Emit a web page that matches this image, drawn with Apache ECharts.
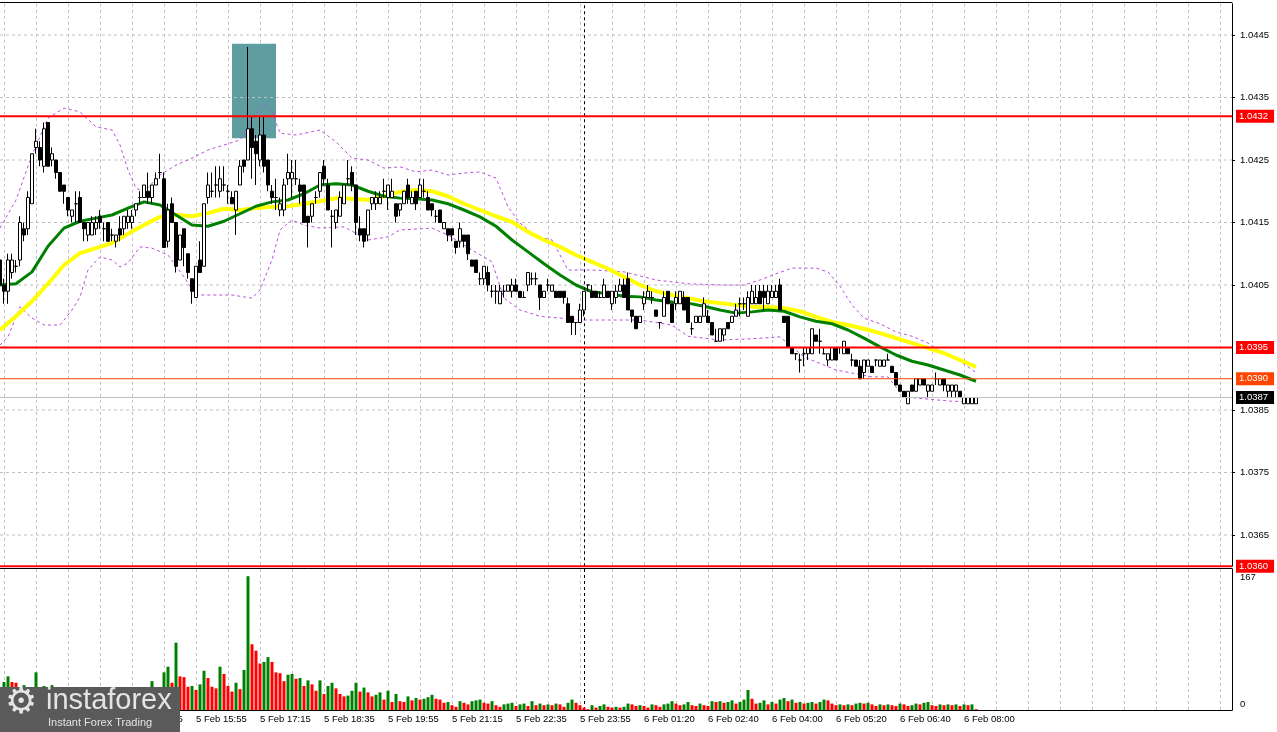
<!DOCTYPE html>
<html><head><meta charset="utf-8">
<script src="https://cdn.jsdelivr.net/npm/echarts@6/dist/echarts.min.js"></script>
<style>html,body{margin:0;padding:0;background:#fff;}#c{width:1277px;height:732px;}</style>
</head><body><div id="c"></div>
<script>
// ---------- data ----------
const tickLabels = ['5 Feb 11:55','5 Feb 13:15','5 Feb 14:35','5 Feb 15:55','5 Feb 17:15','5 Feb 18:35',
  '5 Feb 19:55','5 Feb 21:15','5 Feb 22:35','5 Feb 23:55','6 Feb 01:20','6 Feb 02:40','6 Feb 04:00',
  '6 Feb 05:20','6 Feb 06:40','6 Feb 08:00'];
const priceTicks = [1.0445,1.0435,1.0425,1.0415,1.0405,1.0385,1.0375,1.0365];
const priceGridLevels = [1.0445,1.0435,1.0425,1.0415,1.0405,1.0395,1.0385,1.0375,1.0365];
const volumeTicks = [0,167];
const redLevels = [1.0432,1.0395,1.0360];
const orangeLevel = 1.0390;
const bidPrice = 1.0387;
const dayBreakIndex = 146;
const zoneBars = [58,69];
const zonePrices = [1.04436,1.04285];

// [open, close, low, high]
const candles = [
[1.0409,1.0405,1.0404,1.0410],[1.0405,1.0404,1.0402,1.0406],[1.0404,1.0409,1.0402,1.0410],[1.0407,1.0409,1.0406,1.0410],
[1.0408,1.0408,1.0407,1.0409],[1.0409,1.0415,1.0408,1.0416],[1.0414,1.0413,1.0412,1.0415],[1.0414,1.0419,1.0413,1.0420],
[1.0418,1.0426,1.0418,1.0426],[1.0427,1.0428,1.0426,1.0430],[1.0427,1.0425,1.0424,1.0428],[1.0424,1.0430,1.0423,1.0431],
[1.0431,1.0424,1.0424,1.0431],[1.0425,1.0426,1.0424,1.0427],[1.0425,1.0423,1.0422,1.0425],[1.0423,1.0420,1.0420,1.0423],
[1.0421,1.0420,1.0418,1.0421],[1.0419,1.0417,1.0416,1.0419],[1.0416,1.0417,1.0415,1.0417],[1.0418,1.0418,1.0415,1.0420],
[1.0419,1.0415,1.0415,1.0420],[1.0415,1.0414,1.0412,1.0415],[1.0413,1.0415,1.0412,1.0415],[1.0413,1.0415,1.0413,1.0416],
[1.0414,1.0415,1.0413,1.0416],[1.0416,1.0415,1.0414,1.0417],[1.0414,1.0414,1.0412,1.0415],[1.0415,1.0412,1.0412,1.0415],
[1.0413,1.0413,1.0412,1.0414],[1.0412,1.0413,1.0411,1.0413],[1.0414,1.0413,1.0412,1.0416],[1.0414,1.0416,1.0413,1.0416],
[1.0415,1.0416,1.0414,1.0417],[1.0415,1.0416,1.0414,1.0417],[1.0417,1.0418,1.0416,1.0418],[1.0419,1.0419,1.0418,1.0420],
[1.0419,1.0421,1.0419,1.0421],[1.0420,1.0419,1.0418,1.0423],[1.0419,1.0421,1.0418,1.0421],[1.0421,1.0422,1.0421,1.0423],
[1.0423,1.0423,1.0422,1.0426],[1.0422,1.0411,1.0411,1.0423],[1.0412,1.0417,1.0411,1.0418],[1.0418,1.0415,1.0415,1.0419],
[1.0415,1.0408,1.0407,1.0415],[1.0409,1.0413,1.0409,1.0413],[1.0414,1.0411,1.0408,1.0414],[1.0410,1.0407,1.0406,1.0410],
[1.0406,1.0404,1.0402,1.0406],[1.0403,1.0408,1.0403,1.0408],[1.0409,1.0407,1.0407,1.0412],[1.0408,1.0418,1.0408,1.0418],
[1.0419,1.0421,1.0418,1.0423],[1.0420,1.0420,1.0419,1.0423],[1.0421,1.0421,1.0419,1.0424],[1.0420,1.0422,1.0419,1.0424],
[1.0421,1.0421,1.0420,1.0424],[1.0420,1.0420,1.0418,1.0421],[1.0419,1.0418,1.0418,1.0420],[1.0417,1.0420,1.0413,1.0420],
[1.0421,1.0424,1.0421,1.0425],[1.0425,1.0424,1.0423,1.0425],[1.0425,1.0430,1.0425,1.04431],[1.0430,1.0427,1.0422,1.0432],
[1.0428,1.0426,1.0421,1.0429],[1.0425,1.0429,1.0424,1.0432],[1.0429,1.0424,1.0423,1.0432],[1.0425,1.0421,1.0420,1.0425],
[1.0420,1.0419,1.0418,1.0421],[1.0419,1.0419,1.0417,1.0422],[1.0417,1.0418,1.0416,1.0419],[1.0417,1.0421,1.0416,1.0422],
[1.0422,1.0423,1.0421,1.0426],[1.0422,1.0423,1.0419,1.0425],[1.0422,1.0422,1.0421,1.0425],[1.0421,1.0420,1.0418,1.0422],
[1.0421,1.0415,1.0415,1.0421],[1.0416,1.0415,1.0411,1.0416],[1.0416,1.0418,1.0415,1.0418],[1.0419,1.0419,1.0418,1.0420],
[1.0420,1.0423,1.0419,1.0423],[1.0424,1.0422,1.0421,1.0425],[1.0421,1.0417,1.0417,1.0422],[1.0416,1.0416,1.0411,1.0417],
[1.0415,1.0417,1.0414,1.0417],[1.0416,1.0419,1.0416,1.0420],[1.0418,1.0421,1.0418,1.0421],[1.0422,1.0422,1.0421,1.0425],
[1.0423,1.0421,1.0420,1.0424],[1.0421,1.0415,1.0413,1.0421],[1.0414,1.0413,1.0412,1.0416],[1.0414,1.0412,1.0411,1.0414],
[1.0413,1.0417,1.0412,1.0417],[1.0418,1.0419,1.0417,1.0419],[1.0418,1.0419,1.0417,1.0420],[1.0418,1.0419,1.0418,1.0420],
[1.0420,1.0420,1.0419,1.0422],[1.0419,1.0421,1.0417,1.0421],[1.0419,1.0420,1.0419,1.0422],[1.0418,1.0416,1.0415,1.0418],
[1.0417,1.0418,1.0416,1.0418],[1.0418,1.0420,1.0418,1.0420],[1.0421,1.0419,1.0418,1.0422],[1.0418,1.0419,1.0418,1.0420],
[1.0420,1.0418,1.0417,1.0420],[1.0419,1.0421,1.0419,1.0422],[1.0420,1.0420,1.0419,1.0422],[1.0419,1.0417,1.0417,1.0420],
[1.0418,1.0417,1.0416,1.0418],[1.0416,1.0416,1.0415,1.0417],[1.0417,1.0415,1.0415,1.0417],[1.0414,1.0415,1.0414,1.0415],
[1.0414,1.0413,1.0412,1.0414],[1.0414,1.0413,1.0412,1.0414],[1.0412,1.0411,1.0410,1.0412],[1.0412,1.0414,1.0411,1.0415],
[1.0413,1.0412,1.0411,1.0413],[1.0413,1.0410,1.0409,1.0413],[1.0409,1.0408,1.0408,1.0409],[1.0409,1.0407,1.0407,1.0409],
[1.0406,1.0406,1.0405,1.0407],[1.0406,1.0408,1.0405,1.0408],[1.0407,1.0405,1.0404,1.0408],[1.0404,1.0404,1.0403,1.0405],
[1.0404,1.0404,1.0402,1.0405],[1.0402,1.0404,1.0402,1.0405],[1.0404,1.0404,1.0403,1.0405],[1.0404,1.0405,1.0404,1.0405],
[1.0404,1.0405,1.0403,1.0406],[1.0405,1.0404,1.0404,1.0406],[1.0404,1.0403,1.0403,1.0404],[1.0403,1.0403,1.0403,1.0404],
[1.0405,1.0407,1.0404,1.0407],[1.0406,1.0406,1.0405,1.0407],[1.0406,1.0406,1.0405,1.0407],[1.0405,1.0403,1.0401,1.0405],
[1.0403,1.0404,1.0403,1.0404],[1.0405,1.0405,1.0404,1.0406],[1.0404,1.0405,1.0404,1.0405],[1.0404,1.0403,1.0403,1.0404],
[1.0404,1.0403,1.0403,1.0404],[1.0404,1.0403,1.0402,1.0404],[1.0402,1.0399,1.0399,1.0403],[1.0400,1.0399,1.0397,1.0400],
[1.0399,1.0399,1.0397,1.0399],[1.0399,1.0401,1.0399,1.0402],[1.0401,1.0404,1.0400,1.0404],[1.0405,1.0405,1.0404,1.0405],
[1.0404,1.0403,1.0403,1.0405],[1.0404,1.0403,1.0403,1.0404],[1.0403,1.0403,1.0403,1.0404],[1.0403,1.0405,1.0403,1.0406],
[1.0404,1.0403,1.0403,1.0404],[1.0402,1.0404,1.0401,1.0404],[1.0403,1.0404,1.0402,1.0405],[1.0404,1.0405,1.0404,1.0406],
[1.0405,1.0403,1.0403,1.0406],[1.0406,1.0401,1.0401,1.0407],[1.0401,1.0400,1.0399,1.0401],[1.0400,1.0398,1.0398,1.0400],
[1.0399,1.0400,1.0399,1.0400],[1.0402,1.0403,1.0401,1.0404],[1.0403,1.0404,1.0403,1.0405],[1.0403,1.0403,1.0402,1.0404],
[1.0401,1.0400,1.0400,1.0401],[1.0399,1.0399,1.0398,1.0399],[1.0400,1.0403,1.0400,1.0404],[1.0404,1.0402,1.0402,1.0404],
[1.0402,1.0399,1.0399,1.0402],[1.0402,1.0403,1.0401,1.0404],[1.0402,1.0404,1.0402,1.0404],[1.0403,1.0401,1.0401,1.0404],
[1.0403,1.0399,1.0399,1.0403],[1.0398,1.0398,1.0397,1.0399],[1.0399,1.0400,1.0399,1.0400],[1.0399,1.0400,1.0399,1.0400],
[1.0400,1.0402,1.0400,1.0403],[1.0400,1.0399,1.0399,1.0401],[1.0399,1.0397,1.0397,1.0399],[1.0396,1.0396,1.0396,1.0398],
[1.0396,1.0398,1.0396,1.0398],[1.0397,1.0398,1.0396,1.0398],[1.0399,1.0398,1.0398,1.0399],[1.0399,1.0400,1.0399,1.0400],
[1.0400,1.0401,1.0400,1.0402],[1.0402,1.0402,1.0400,1.0403],[1.0402,1.0402,1.0401,1.0403],[1.0400,1.0403,1.0400,1.0404],
[1.0402,1.0404,1.0402,1.0405],[1.0402,1.0403,1.0402,1.0405],[1.0404,1.0402,1.0402,1.0405],[1.0404,1.0403,1.0401,1.0405],
[1.0402,1.0404,1.0402,1.0405],[1.0403,1.0404,1.0403,1.0405],[1.0403,1.0404,1.0403,1.0405],[1.0405,1.0401,1.0401,1.0406],
[1.0400,1.0399,1.0399,1.0400],[1.0400,1.0395,1.0395,1.0400],[1.0395,1.0394,1.0394,1.0395],[1.0394,1.0394,1.0393,1.0394],
[1.0393,1.0393,1.0391,1.0394],[1.0394,1.0394,1.0392,1.0395],[1.0394,1.0395,1.0393,1.0395],[1.0394,1.0398,1.0394,1.0398],
[1.0397,1.0396,1.0396,1.0397],[1.0396,1.0396,1.0394,1.0398],[1.0394,1.0394,1.0394,1.0395],[1.0393,1.0394,1.0392,1.0394],
[1.0393,1.0395,1.0393,1.0395],[1.0395,1.0393,1.0393,1.0395],[1.0395,1.0395,1.0394,1.0395],[1.0394,1.0396,1.0394,1.0396],
[1.0395,1.0394,1.0394,1.0395],[1.0393,1.0393,1.0392,1.0394],[1.0393,1.0392,1.0392,1.0393],[1.0392,1.0390,1.0390,1.0393],
[1.0391,1.0393,1.0390,1.0393],[1.0392,1.0393,1.0392,1.0393],[1.0392,1.0391,1.0391,1.0392],[1.0393,1.0393,1.0392,1.0393],
[1.0392,1.0393,1.0392,1.0393],[1.0392,1.0393,1.0392,1.0393],[1.0393,1.0393,1.0393,1.0394],[1.0392,1.0391,1.0391,1.0392],
[1.0391,1.0389,1.0389,1.0391],[1.0389,1.0388,1.0388,1.0389],[1.0388,1.0387,1.0387,1.0388],[1.0386,1.0388,1.0386,1.0388],
[1.0389,1.0388,1.0388,1.0389],[1.0388,1.0390,1.0388,1.0390],[1.0389,1.0390,1.0389,1.0390],[1.0390,1.0389,1.0389,1.0390],
[1.0388,1.0389,1.0387,1.0389],[1.0388,1.0389,1.0388,1.0389],[1.0390,1.0390,1.0389,1.0391],[1.0389,1.0390,1.0389,1.0390],
[1.0390,1.0389,1.0388,1.0390],[1.0388,1.0389,1.0387,1.0389],[1.0388,1.0389,1.0387,1.0389],[1.0388,1.0389,1.0387,1.0389],
[1.0388,1.0387,1.0387,1.0388],[1.0386,1.0387,1.0386,1.0387],[1.0386,1.0387,1.0386,1.0387],[1.0386,1.0387,1.0386,1.0387],
[1.0386,1.0387,1.0386,1.0387]
];

const volumes = [
25,35,42,35,34,22,31,20,26,47, 22,30,20,31,22,18,20,15,14,18,
20,15,12,16,14,12,15,18,14,12, 16,14,17,15,18,20,16,22,36,25,
27,47,54,34,84,42,41,29,30,25, 32,49,40,29,27,54,45,30,23,34,
26,50,167,82,74,58,60,66,60,47, 46,36,44,45,39,40,30,37,32,24,
37,20,30,34,27,20,17,18,24,34, 23,28,22,17,19,22,13,24,10,20,
11,10,17,12,15,13,14,16,19,14, 13,9,10,6,4,11,9,7,11,12,
13,9,8,11,6,4,7,8,9,5, 7,8,5,11,6,8,6,7,6,8,
7,4,9,13,9,6,3,1,6,3, 5,7,4,3,4,3,4,8,7,5,
6,5,3,7,6,4,7,8,11,8, 6,7,10,6,5,8,6,5,11,10,
11,9,10,12,8,10,13,25,14,8, 9,12,7,10,8,13,15,11,13,9,
10,8,9,10,8,10,13,12,8,6, 7,6,7,6,8,9,8,9,7,5,
7,6,7,6,5,8,7,5,6,8, 7,9,10,6,5,7,6,7,6,7,
5,7,6,7,1
];

// moving averages sampled every 4 bars
const maStep = 4;
const maFast = [1.0405,1.04052,1.04071,1.04112,1.04141,1.04152,1.04157,1.04162,1.04173,1.04183,
1.04178,1.04162,1.04146,1.04144,1.04152,1.04164,1.04176,1.04183,1.04186,1.04196,
1.0421,1.04212,1.0421,1.042,1.04192,1.04189,1.04188,1.04186,1.0418,1.0417,
1.04159,1.04144,1.04122,1.04103,1.04084,1.04066,1.0405,1.04039,1.04036,1.04032,
1.04031,1.04026,1.04023,1.04021,1.04016,1.0401,1.04005,1.04007,1.0401,1.04008,
1.03999,1.03992,1.03988,1.03978,1.03965,1.03951,1.03938,1.03928,1.03922,1.03914,
1.03906,1.03896];
const maSlow = [1.03978,1.04,1.04024,1.04052,1.04082,1.04101,1.04109,1.04117,1.04132,1.04146,
1.04159,1.04162,1.0416,1.04165,1.04172,1.0417,1.04173,1.04175,1.04176,1.0418,
1.04184,1.04189,1.04188,1.04186,1.04192,1.04199,1.04202,1.042,1.04192,1.0418,
1.0417,1.0416,1.04151,1.04135,1.04122,1.04111,1.04098,1.04087,1.04076,1.04063,
1.0405,1.0404,1.04034,1.04029,1.04024,1.04021,1.04018,1.04015,1.04015,1.04013,
1.04008,1.03999,1.03991,1.03986,1.0398,1.03973,1.03965,1.03957,1.03949,1.03941,
1.0393,1.03919];

// Bollinger bands [bar index, price]
const bandUpper = [[0,1.04141],[4,1.04186],[8,1.04258],[12,1.04317],[16,1.04333],[20,1.04327],[24,1.04303],[28,1.04298],
[30,1.04274],[32,1.04234],[34,1.04205],[36,1.04199],[40,1.04226],[44,1.04242],[48,1.04253],[52,1.04266],[56,1.04274],
[60,1.04282],[63,1.04314],[66,1.0434],[68,1.04327],[70,1.04293],[74,1.0429],[80,1.04298],[84,1.04279],[88,1.04253],
[92,1.0425],[96,1.04237],[100,1.04239],[104,1.04231],[108,1.04234],[112,1.04226],[116,1.04229],[120,1.04231],[124,1.04221],
[127,1.04175],[130,1.04149],[134,1.04128],[138,1.04122],[142,1.04074],[148,1.04074],[156,1.04071],[164,1.04058],[172,1.04052],
[180,1.0405],[186,1.0405],[190,1.04058],[194,1.04068],[198,1.04077],[204,1.04077],[207,1.04071],[210,1.04048],[213,1.04018],
[216,1.03997],[220,1.03988],[224,1.03975],[228,1.03968],[232,1.03957],[236,1.0394],[240,1.03928],[244,1.0391]];
const bandLower = [[0,1.03954],[2,1.03967],[5,1.04015],[8,1.03997],[11,1.03986],[15,1.03986],[18,1.0401],[20,1.04031],
[22,1.04074],[25,1.04095],[28,1.0409],[30,1.04079],[32,1.04085],[35,1.04111],[38,1.04109],[42,1.04098],[46,1.04063],
[49,1.04034],[58,1.04034],[63,1.04029],[65,1.04042],[68,1.0409],[70,1.04138],[73,1.04154],[76,1.04146],[80,1.04141],
[86,1.04143],[92,1.04122],[97,1.04127],[100,1.04138],[108,1.04141],[112,1.0413],[118,1.04106],[123,1.04087],[126,1.04029],
[130,1.0401],[135,1.04],[140,1.03997],[146,1.03994],[160,1.03994],[168,1.03986],[172,1.03968],[180,1.03962],[188,1.03964],
[195,1.03967],[198,1.03951],[201,1.03935],[209,1.03914],[218,1.03903],[222,1.03903],[226,1.03871],[238,1.03864],[244,1.03863]];

// ---------- chart ----------
const SLOTS = 309;            // bar slots across the plot (incl. empty right margin)
const LAST = SLOTS - 1;
const LABEL_FIRST = 1, LABEL_STEP = 16, GRID_STEP = 8;
const slots = Array.from({length: SLOTS}, (_, i) => 'b' + i);
const FONT = '"Liberation Sans", Arial, sans-serif';
const gridColor = '#c0c0c0';

const splitV = {show: true, interval: (i) => i % GRID_STEP === 1,
  lineStyle: {color: gridColor, type: [3, 3], width: 1}};

// horizontal level drawn as a line series across the whole plot, with a price tag at its end
const levelSeries = (val, bg, lineColor, w) => ({
  type: 'line', xAxisIndex: 0, yAxisIndex: 0, z: 6, silent: true, symbol: 'none', clip: false,
  data: [[0, val], [LAST, val]],
  lineStyle: {color: lineColor, width: w},
  endLabel: {show: true, distance: 4, formatter: val.toFixed(4), color: '#fff', backgroundColor: bg,
    padding: [2, 6, 1, 3], fontSize: 9.5, fontFamily: FONT, lineHeight: 10}
});
const gridSeries = (val) => ({
  type: 'line', xAxisIndex: 0, yAxisIndex: 0, z: 2, silent: true, symbol: 'none',
  data: [[0, val], [LAST, val]],
  lineStyle: {color: gridColor, width: 1, type: [3, 3]}
});

const chart = echarts.init(document.getElementById('c'), null, {renderer: 'canvas'});
chart.setOption({
  animation: false,
  backgroundColor: '#ffffff',
  grid: [
    {left: 0, right: 45, top: 3.75, height: 562.5},
    {left: 0, right: 45, top: 569, bottom: 22}
  ],
  xAxis: [
    {type: 'category', gridIndex: 0, data: slots, boundaryGap: false, position: 'bottom', offset: 2,
     axisLine: {show: true, lineStyle: {color: '#000', width: 1}}, axisTick: {show: false},
     axisLabel: {show: false}, splitLine: splitV},
    {type: 'category', gridIndex: 0, data: slots, boundaryGap: false, position: 'top', offset: 2,
     axisLine: {show: true, lineStyle: {color: '#000', width: 1}}, axisTick: {show: false},
     axisLabel: {show: false}, splitLine: {show: false}},
    {type: 'category', gridIndex: 1, data: slots, boundaryGap: false, position: 'bottom',
     axisLine: {show: true, lineStyle: {color: '#000', width: 1}}, axisTick: {show: false},
     axisLabel: {show: true, align: 'left', margin: 4, color: '#000', fontSize: 9.5, fontFamily: FONT,
       interval: (i) => (i - LABEL_FIRST) % LABEL_STEP === 0 && tickLabels[(i - LABEL_FIRST) / LABEL_STEP] !== undefined,
       formatter: (v, i) => tickLabels[(i - LABEL_FIRST) / LABEL_STEP] || ''},
     splitLine: splitV}
  ],
  yAxis: [
    {type: 'value', gridIndex: 0, position: 'right', min: 1.0360, max: 1.0450,
     axisLine: {show: true, lineStyle: {color: '#000', width: 1}},
     axisTick: {show: true, length: 3, customValues: priceTicks, lineStyle: {color: '#000'}},
     axisLabel: {show: true, customValues: priceTicks, margin: 8, color: '#000', fontSize: 9.5, fontFamily: FONT,
       formatter: (v) => v.toFixed(4)},
     splitLine: {show: false}},
    {type: 'value', gridIndex: 1, position: 'right', min: 0, max: 176,
     axisLine: {show: true, lineStyle: {color: '#000', width: 1}},
     axisTick: {show: false},
     axisLabel: {show: true, customValues: volumeTicks, margin: 8, color: '#000', fontSize: 9.5, fontFamily: FONT,
       formatter: (v) => v === 0 ? '{lo|0}' : '{hi|' + v + '}',
       rich: {lo: {padding: [0, 0, 12, 0], fontSize: 9.5, fontFamily: FONT, color: '#000'},
              hi: {padding: [2, 0, 0, 0], fontSize: 9.5, fontFamily: FONT, color: '#000'}}},
     splitLine: {show: false}}
  ],
  series: [
    { // highlighted zone
      type: 'line', xAxisIndex: 0, yAxisIndex: 0, data: [], z: 1, silent: true,
      markArea: {silent: true, itemStyle: {color: '#5f9ea0', opacity: 1},
        data: [[{xAxis: zoneBars[0], yAxis: zonePrices[0]}, {xAxis: zoneBars[1], yAxis: zonePrices[1]}]]}
    },
    ...priceGridLevels.map(gridSeries),
    {
      type: 'line', xAxisIndex: 0, yAxisIndex: 0, z: 3, silent: true, symbol: 'none',
      data: bandUpper, lineStyle: {color: '#b94fdc', width: 1, type: [3, 3]}
    },
    { // lower band + day separator
      type: 'line', xAxisIndex: 0, yAxisIndex: 0, z: 3, silent: true, symbol: 'none',
      data: bandLower, lineStyle: {color: '#b94fdc', width: 1, type: [3, 3]},
      markLine: {silent: true, symbol: 'none', label: {show: false},
        data: [{xAxis: dayBreakIndex, lineStyle: {color: '#000', type: [3, 3], width: 1}}]}
    },
    {
      type: 'line', xAxisIndex: 0, yAxisIndex: 0, z: 4, silent: true, symbol: 'none',
      data: maSlow.map((v, k) => [k * maStep, v]), lineStyle: {color: '#ffff00', width: 4}
    },
    {
      type: 'line', xAxisIndex: 0, yAxisIndex: 0, z: 4, silent: true, symbol: 'none',
      data: maFast.map((v, k) => [k * maStep, v]), lineStyle: {color: '#008000', width: 3}
    },
    {
      type: 'candlestick', xAxisIndex: 0, yAxisIndex: 0, z: 5, silent: true, barWidth: 3,
      data: candles,
      itemStyle: {color: '#ffffff', color0: '#000000', borderColor: '#000000', borderColor0: '#000000', borderWidth: 1}
    },
    levelSeries(bidPrice, '#000000', '#c0c0c0', 1),
    levelSeries(orangeLevel, '#ff4500', '#ff4500', 1),
    ...redLevels.map(v => levelSeries(v, '#ff0000', '#ff0000', 2)),
    {
      type: 'bar', xAxisIndex: 2, yAxisIndex: 1, z: 5, silent: true, barWidth: 3,
      data: volumes,
      itemStyle: {color: (p) => (p.dataIndex === 0 || volumes[p.dataIndex] > volumes[p.dataIndex - 1]) ? '#008000' : '#ff0000'},
      markLine: {silent: true, symbol: 'none', label: {show: false},
        data: [{xAxis: dayBreakIndex, lineStyle: {color: '#000', type: [3, 3], width: 1}}]}
    }
  ],
  graphic: [
    {type: 'rect', left: 0, top: 687, z: 100, shape: {width: 180, height: 45}, style: {fill: '#5a5a5a'}},
    {type: 'text', left: 5, top: 686, z: 101, style: {text: '\u2699', font: '36px "DejaVu Sans"', fill: '#e4e4e4'}},
    {type: 'text', left: 46, top: 686, z: 101, style: {text: 'instaforex', font: '29px "Liberation Sans"', fill: '#e4e4e4'}},
    {type: 'text', left: 48, top: 717, z: 101, style: {text: 'Instant Forex Trading', font: '11px "Liberation Sans"', fill: '#e4e4e4'}}
  ]
});
</script>
</body></html>
